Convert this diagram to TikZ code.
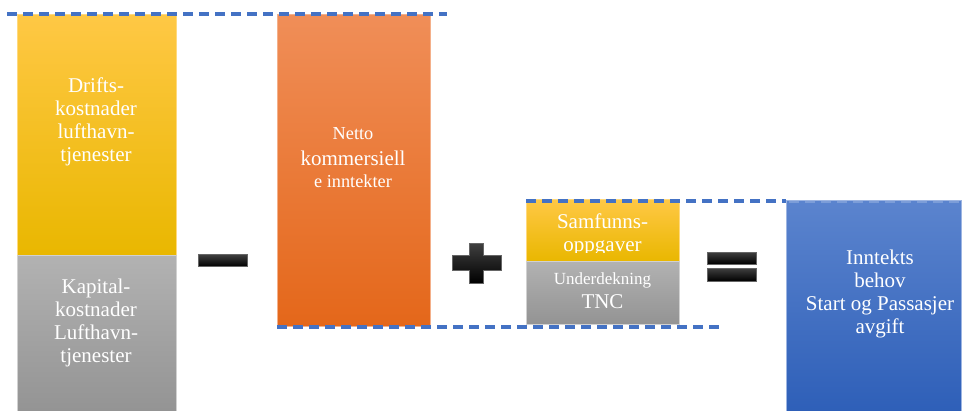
\documentclass[tikz,border=0pt]{standalone}
\usepackage{fontspec}
\setmainfont{Liberation Serif}[Ligatures=TeX]
\newfontfamily\timesfont{Liberation Serif}
\definecolor{dashblue}{HTML}{4472C4}
\definecolor{ytop}{HTML}{FFC845}
\definecolor{ybot}{HTML}{E9B700}
\definecolor{gtop}{HTML}{B2B2B2}
\definecolor{gbot}{HTML}{939393}
\definecolor{otop}{HTML}{F08E58}
\definecolor{obot}{HTML}{E4671A}
\definecolor{btop}{HTML}{5B84CE}
\definecolor{bbot}{HTML}{2E5FB8}
\tikzset{
  bar/.style={rectangle, anchor=north west, inner sep=0pt, line width=0.6pt},
  ybar/.style={bar, top color=ytop, bottom color=ybot, draw=ytop!70!white},
  gbar/.style={bar, top color=gtop, bottom color=gbot, draw=gtop!60!white},
  obar/.style={bar, top color=otop, bottom color=obot, draw=otop!70!white},
  bbar/.style={bar, top color=btop, bottom color=bbot, draw=btop!60!white},
  lbl/.style={text=white, align=center, inner sep=0pt},
  big/.style={font=\timesfont\fontsize{21}{23}\selectfont},
  mid/.style={font=\timesfont\fontsize{18.3}{23}\selectfont},
  small/.style={font=\timesfont\fontsize{17}{23}\selectfont},
  dline/.style={draw=dashblue, line width=3.5pt, dash pattern=on 10pt off 6pt},
  opbar/.style={rectangle, inner sep=0pt, top color=black!75, bottom color=black, draw=black!60, line width=0.4pt}
}
\begin{document}
\begin{tikzpicture}[x=1pt,y=-1pt]
\useasboundingbox (0,0) rectangle (964,410);
% left column
\node[ybar, minimum width=159pt, minimum height=241pt] (drift) at (17,14) {};
\node[gbar, minimum width=159pt, minimum height=160pt] (kap) at (17,255) {};
\node[lbl, big] (drifttxt) at (96,122) {Drifts-\\kostnader\\lufthavn-\\tjenester};
\node[lbl, big] (kaptxt) at (96,323) {Kapital-\\kostnader\\Lufthavn-\\tjenester};
% orange column
\node[obar, minimum width=153pt, minimum height=312pt] (netto) at (277,14) {};
\node[lbl, mid] (n1) at (353,134) {Netto};
\node[lbl, big] (n2) at (353,158) {kommersiell};
\node[lbl, mid] (n3) at (353,181) {e inntekter};
% small column
\node[ybar, minimum width=153pt, minimum height=62pt] (samf) at (526,199) {};
\begin{scope}
  \clip (526,199) rectangle (679,252.5);
  \node[lbl, big, anchor=base] (s1) at (602.5,228) {Samfunns-};
  \node[lbl, big, anchor=base] (s2) at (602.5,251) {oppgaver};
\end{scope}
\node[gbar, minimum width=153pt, minimum height=63pt] (tnc) at (526,261) {};
\node[lbl, small] (t1) at (602.5,280) {Underdekning};
\node[lbl, big] (t2) at (602.5,302) {TNC};
% dashed lines
\coordinate (d1a) at (7,14);
\coordinate (d1b) at (447,14);
\coordinate (d2a) at (277,327);
\coordinate (d2b) at (722,327);
\coordinate (d3a) at (526,201);
\coordinate (d3b) at (786,201);
\draw[dline] (d1a) -- (d1b);
\draw[dline] (d2a) -- (d2b);
\draw[dline] (d3a) -- (d3b);
% blue column
\node[bbar, minimum width=175pt, minimum height=212pt] (inn) at (786,200) {};
\coordinate (d4a) at (789,202);
\coordinate (d4b) at (961,202);
\draw[dline, draw=btop!80!white, line width=2.5pt] (d4a) -- (d4b);
\node[lbl, big] (innt) at (880,294) {Inntekts\\behov\\Start og Passasjer\\avgift};
% operators
\node[opbar, minimum width=49pt, minimum height=12pt] (minus) at (222.5,260.5) {};
\path[top color=black!75, bottom color=black, draw=black!60, line width=0.4pt]
  (469,243) -- (483,243) -- (483,255) -- (501,255) -- (501,270) -- (483,270)
  -- (483,283) -- (469,283) -- (469,270) -- (452,270) -- (452,255) -- (469,255) -- cycle;
\node[opbar, minimum width=49pt, minimum height=12pt] (eq1) at (731.5,258) {};
\node[opbar, minimum width=49pt, minimum height=13pt] (eq2) at (731.5,274.5) {};
\end{tikzpicture}
\end{document}
